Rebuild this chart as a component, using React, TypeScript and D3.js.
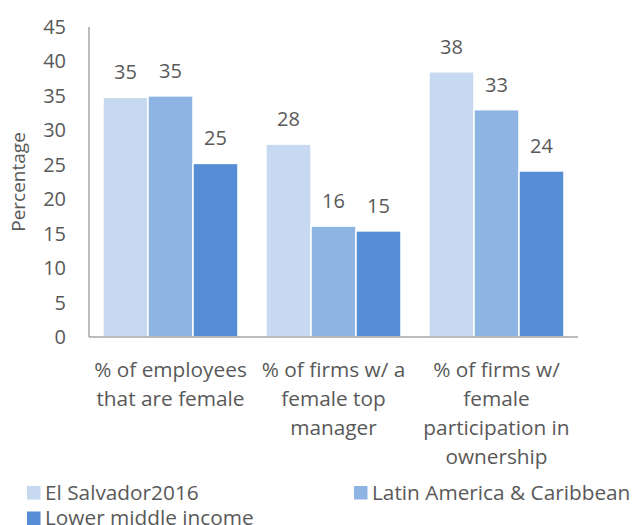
import React from "react";
import * as d3 from "d3";

const categories = [
  ["% of employees", "that are female"],
  ["% of firms w/ a", "female top", "manager"],
  ["% of firms w/", "female", "participation in", "ownership"],
];
const seriesNames = ["El Salvador2016", "Latin America & Caribbean", "Lower middle income"];
const elSalvador = [34.8, 28.0, 38.5];
const latinAmerica = [35.0, 16.1, 33.0];
const lowerMiddle = [25.2, 15.4, 24.1];
const elSalvadorLabels = ["35", "28", "38"];
const latinAmericaLabels = ["35", "16", "33"];
const lowerMiddleLabels = ["25", "15", "24"];
const yTicks = [0, 5, 10, 15, 20, 25, 30, 35, 40, 45];
const colors = ["#C6D9F1", "#8EB4E3", "#558ED5"];

export default function App() {
  const W = 632, H = 525;
  const left = 89, right = 578, top = 27, bottom = 337;
  const series = [elSalvador, latinAmerica, lowerMiddle];
  const labels = [elSalvadorLabels, latinAmericaLabels, lowerMiddleLabels];
  const y = d3.scaleLinear().domain([0, 45]).range([bottom, top]);
  const x0 = d3.scaleBand<number>().domain([0, 1, 2]).range([left, right]).paddingInner(0.172).paddingOuter(0.086);
  const x1 = d3.scaleBand<number>().domain([0, 1, 2]).range([0, x0.bandwidth()]).padding(0);
  const font = "'Open Sans', sans-serif";
  const textColor = "#595959";
  const fs = 20.8;
  const fn = 20;
  return (
    <svg width={W} height={H} style={{ position: "absolute", left: 0, top: 0, fontFamily: font }}>
      <rect width={W} height={H} fill="#fff" />
      {yTicks.map((t) => (
        <text key={t} x={66} y={y(t)} dy="0.35em" textAnchor="end" fontSize={fn} fill={textColor}>
          {t}
        </text>
      ))}
      <text transform={`translate(18,${(top + bottom) / 2}) rotate(-90)`} textAnchor="middle" dy="0.35em" fontSize={19} fill={textColor}>
        Percentage
      </text>
      {series.map((vals, s) =>
        vals.map((v, c) => {
          const bx = (x0(c) as number) + (x1(s) as number);
          const bw = x1.bandwidth();
          return (
            <g key={`${s}-${c}`}>
              <rect x={bx} y={y(v)} width={bw} height={bottom - y(v)} fill={colors[s]} stroke="#fff" strokeWidth={1.5} />
              <text x={bx + bw / 2} y={y(v) - 25} dy="0.35em" textAnchor="middle" fontSize={fn} fill={textColor}>
                {labels[s][c]}
              </text>
            </g>
          );
        })
      )}
      <line x1={left} x2={left} y1={top} y2={bottom} stroke="#A6A6A6" strokeWidth={1.5} />
      <line x1={left} x2={right} y1={bottom} y2={bottom} stroke="#A6A6A6" strokeWidth={1.5} />
      {categories.map((lines, c) => (
        <text key={c} textAnchor="middle" fontSize={fs} fill={textColor}>
          {lines.map((ln, i) => (
            <tspan key={i} x={(x0(c) as number) + x0.bandwidth() / 2} y={370 + i * 29} dy="0.35em">
              {ln}
            </tspan>
          ))}
        </text>
      ))}
      {seriesNames.map((name, s) => {
        const lx = s === 1 ? 354 : 27;
        const ly = s === 2 ? 518 : 492.5;
        return (
          <g key={name}>
            <rect x={lx} y={ly - 6.5} width={13.5} height={13.5} fill={colors[s]} />
            <text x={lx + 18} y={ly} dy="0.35em" fontSize={fs} fill={textColor}>
              {name}
            </text>
          </g>
        );
      })}
    </svg>
  );
}
